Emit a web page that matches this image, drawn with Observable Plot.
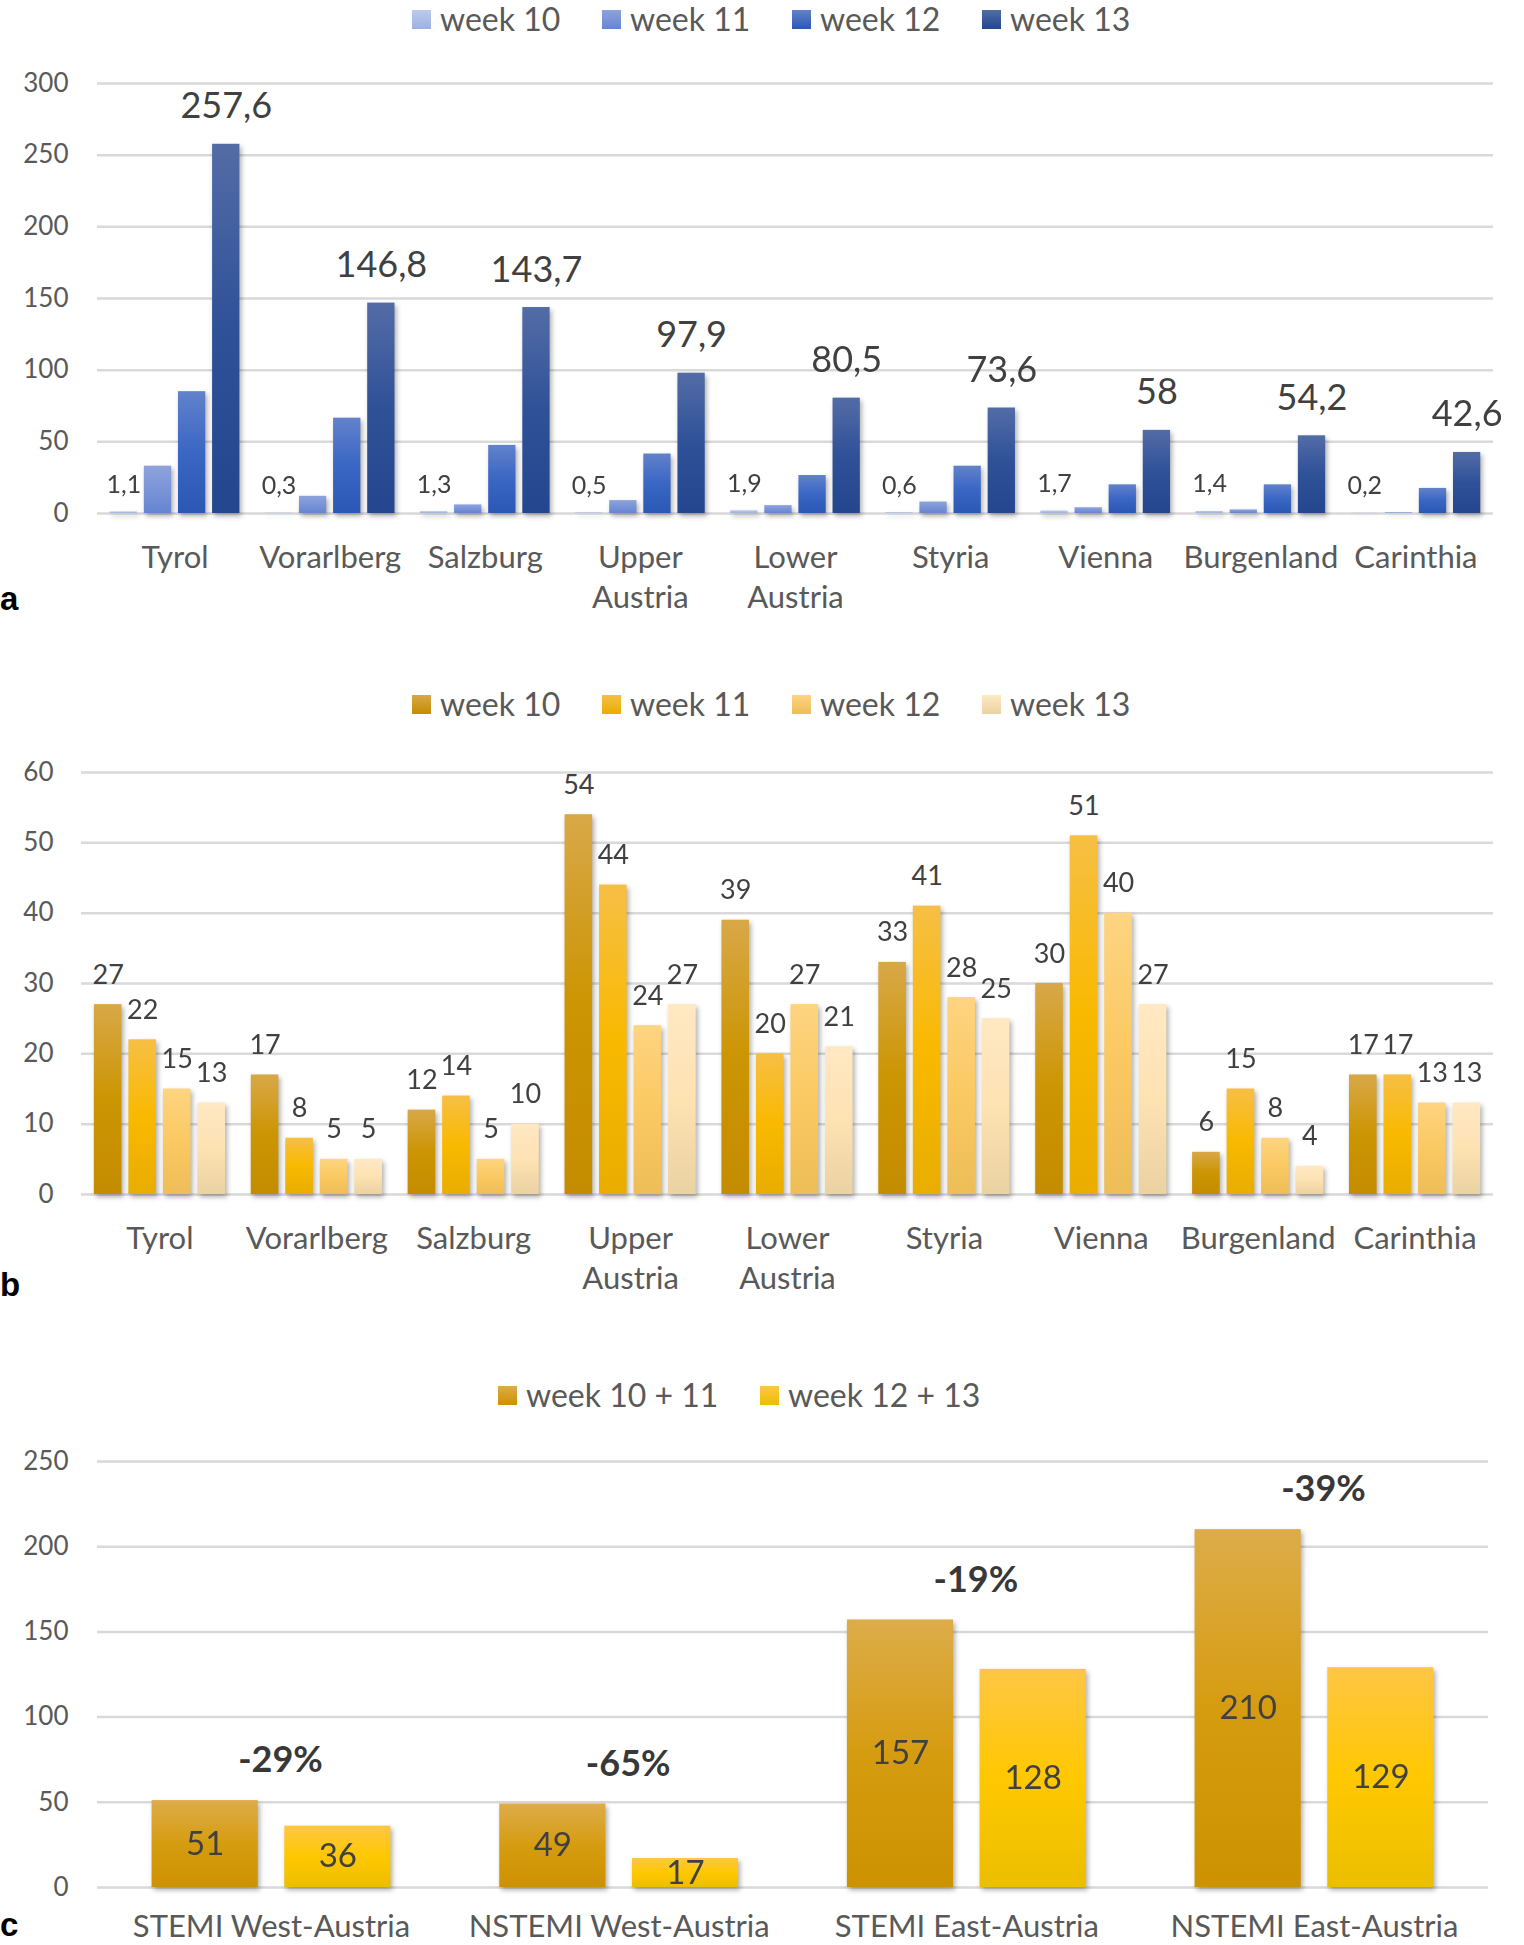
<!DOCTYPE html>
<html>
<head>
<meta charset="utf-8">
<script src="https://cdn.jsdelivr.net/npm/d3@7"></script>
<script src="https://cdn.jsdelivr.net/npm/@observablehq/plot@0.6"></script>
<style>
html, body { margin: 0; padding: 0; background: #fff; overflow: hidden; }
#page { position: relative; width: 1524px; height: 1945px; font-family: Lato, sans-serif; overflow: hidden; }
.legend { position: absolute; display: flex; align-items: center; white-space: nowrap; font-size: 32px; color: #595959; line-height: 32px; height: 32px; }
.legend .item { display: flex; align-items: center; }
.legend .sw { width: 19px; height: 19px; margin-right: 9px; flex: none; }
.panel { position: absolute; left: 0; width: 1524px; }
.panel svg { position: absolute; left: 0; top: 0; }
.letter { position: absolute; left: 0; font: bold 33px 'Liberation Sans', Arial, sans-serif; line-height: 33px; color: #000; }
</style>
</head>
<body>
<div id="page"></div>
<script>
// ---------- data ----------
const regions = ["Tyrol", "Vorarlberg", "Salzburg", "Upper Austria", "Lower Austria", "Styria", "Vienna", "Burgenland", "Carinthia"];
const regionLabels = ["Tyrol", "Vorarlberg", "Salzburg", "Upper\nAustria", "Lower\nAustria", "Styria", "Vienna", "Burgenland", "Carinthia"];
const weeks = ["week 10", "week 11", "week 12", "week 13"];

// panel a: incidence
const incidenceW10 = [1.1, 0.3, 1.3, 0.5, 1.9, 0.6, 1.7, 1.4, 0.2];
const incidenceW11 = [33, 12, 6, 9, 5.5, 8, 4, 2.5, 0.5];
const incidenceW12 = [85, 66.5, 47.5, 41.5, 26.5, 33, 20, 20, 17.5];
const incidenceW13 = [257.6, 146.8, 143.7, 97.9, 80.5, 73.6, 58, 54.2, 42.6];
const ticksA = [0, 50, 100, 150, 200, 250, 300];

// panel b: admissions
const amiW10 = [27, 17, 12, 54, 39, 33, 30, 6, 17];
const amiW11 = [22, 8, 14, 44, 20, 41, 51, 15, 17];
const amiW12 = [15, 5, 5, 24, 27, 28, 40, 8, 13];
const amiW13 = [13, 5, 10, 27, 21, 25, 27, 4, 13];
const ticksB = [0, 10, 20, 30, 40, 50, 60];

// panel c: grouped
const groupsC = ["STEMI West-Austria", "NSTEMI West-Austria", "STEMI East-Austria", "NSTEMI East-Austria"];
const periodsC = ["week 10 + 11", "week 12 + 13"];
const amiBefore = [51, 49, 157, 210];
const amiAfter = [36, 17, 128, 129];
const changeLabels = ["-29%", "-65%", "-19%", "-39%"];
const ticksC = [0, 50, 100, 150, 200, 250];

// ---------- styles ----------
const gradA = [["#bccaec", "#9db1e2"], ["#8ea3dc", "#6585d2"], ["#6282cb", "#3a66c4", "#2b58b4"], ["#536ca6", "#2f5198", "#23468e"]];
const gradB = [["#d8a848", "#cc9502", "#c48c00"], ["#f6bf45", "#f9b900", "#e9ad00"], ["#fdd481", "#fbc962", "#edbd58"], ["#ffe8c3", "#fde2b2", "#ebd2a2"]];
const gradC = [["#ddac4a", "#d69c10", "#cc9200"], ["#ffc645", "#ffc800", "#ebbe00"]];
const textDark = "#404040";
const textGray = "#595959";
const gridColor = "#d9d9d9";

// ---------- helpers ----------
const fmt = v => String(v).replace(".", ",");
const tidy = (cats, keys, series) => cats.flatMap((c, i) => keys.map((k, j) => ({cat: c, key: k, value: series[j][i]})));

function addGradients(svg, prefix, specs) {
  const defs = d3.select(svg).insert("defs", ":first-child");
  specs.forEach((stops, i) => {
    const lg = defs.append("linearGradient").attr("id", prefix + i)
      .attr("x1", 0).attr("y1", 0).attr("x2", 0).attr("y2", 1);
    stops.forEach((c, k) => lg.append("stop").attr("offset", k / (stops.length - 1)).attr("stop-color", c));
  });
  d3.select(svg).selectAll('g[aria-label="bar"]').style("filter", "drop-shadow(2px 3px 2.5px rgba(0,0,0,0.32))");
}

const page = document.getElementById("page");

function legend(items, grads, left, top, itemWidth) {
  const div = document.createElement("div");
  div.className = "legend";
  div.style.left = left + "px";
  div.style.top = top + "px";
  items.forEach((t, i) => {
    const it = document.createElement("div");
    it.className = "item";
    if (i < items.length - 1) it.style.width = itemWidth + "px";
    const sw = document.createElement("div");
    sw.className = "sw";
    const g = grads[i];
    sw.style.background = `linear-gradient(to bottom, ${g[0]}, ${g[g.length - 1]})`;
    const tx = document.createElement("span");
    tx.textContent = t;
    it.appendChild(sw); it.appendChild(tx);
    div.appendChild(it);
  });
  page.appendChild(div);
}

function letter(ch, top) {
  const d = document.createElement("div");
  d.className = "letter";
  d.style.top = top + "px";
  d.textContent = ch;
  page.appendChild(d);
}

const baseStyle = {fontFamily: "Lato, sans-serif", background: "transparent", maxWidth: "none", overflow: "visible"};

// A panel = background plot (grid + y axis, no facets) under a faceted bar plot with identical frame.
function panel({top, frame, yDomain, ticks, tickPadding, fx, x, color, marks, prefix, grads}) {
  const wrap = document.createElement("div");
  wrap.className = "panel";
  wrap.style.top = top + "px";
  wrap.style.height = frame.height + "px";
  const bg = Plot.plot({
    ...frame, style: baseStyle,
    y: {domain: yDomain, axis: null},
    marks: [
      Plot.gridY(ticks, {stroke: gridColor, strokeWidth: 2.5, strokeOpacity: 1}),
      Plot.axisY(ticks, {tickSize: 0, tickPadding, fontSize: 26, color: textGray, label: null})
    ]
  });
  const fg = Plot.plot({
    ...frame, style: baseStyle,
    fx, x, color,
    y: {domain: yDomain, axis: null},
    marks
  });
  addGradients(fg, prefix, grads);
  wrap.appendChild(bg);
  wrap.appendChild(fg);
  page.appendChild(wrap);
}

// ---------- panel a ----------
const dataA = tidy(regions, weeks, [incidenceW10, incidenceW11, incidenceW12, incidenceW13]);
panel({
  top: 40,
  frame: {width: 1524, height: 600, marginTop: 43, marginRight: 31, marginBottom: 127, marginLeft: 97},
  yDomain: [0, 300], ticks: ticksA, tickPadding: 29,
  fx: {domain: regions, paddingInner: 0.12, paddingOuter: 0.06, round: false, axis: null, label: null},
  x: {domain: weeks, paddingInner: 0.2, paddingOuter: 0.1, round: false, axis: null},
  color: {type: "ordinal", domain: weeks, range: weeks.map((w, i) => `url(#ga${i})`)},
  prefix: "ga", grads: gradA,
  marks: [
    Plot.barY(dataA, {fx: "cat", x: "key", y: "value", fill: "key"}),
    Plot.text(dataA.filter(d => d.key === weeks[0]), {fx: "cat", x: "key", y: "value", text: d => fmt(d.value), lineAnchor: "bottom", dy: -19, fontSize: 25, fill: textDark}),
    Plot.text(dataA.filter(d => d.key === weeks[3]), {fx: "cat", x: "key", y: "value", text: d => fmt(d.value), lineAnchor: "bottom", dy: -26, fontSize: 36, fill: textDark}),
    Plot.text(regions, {fx: d => d, text: (d, i) => regionLabels[i], frameAnchor: "bottom", lineAnchor: "top", dy: 26, fontSize: 31, lineHeight: 1.3, fill: textGray})
  ]
});
legend(weeks, gradA, 412, 3, 190);
letter("a", 582);

// ---------- panel b ----------
const dataB = tidy(regions, weeks, [amiW10, amiW11, amiW12, amiW13]);
panel({
  top: 720,
  frame: {width: 1524, height: 600, marginTop: 52, marginRight: 31, marginBottom: 126, marginLeft: 81},
  yDomain: [0, 60], ticks: ticksB, tickPadding: 28,
  fx: {domain: regions, paddingInner: 0.12, paddingOuter: 0.06, round: false, axis: null, label: null},
  x: {domain: weeks, paddingInner: 0.2, paddingOuter: 0.1, round: false, axis: null},
  color: {type: "ordinal", domain: weeks, range: weeks.map((w, i) => `url(#gb${i})`)},
  prefix: "gb", grads: gradB,
  marks: [
    Plot.barY(dataB, {fx: "cat", x: "key", y: "value", fill: "key"}),
    Plot.text(dataB, {fx: "cat", x: "key", y: "value", text: d => fmt(d.value), lineAnchor: "bottom", dy: -21, fontSize: 27, fill: textDark}),
    Plot.text(regions, {fx: d => d, text: (d, i) => regionLabels[i], frameAnchor: "bottom", lineAnchor: "top", dy: 26, fontSize: 31, lineHeight: 1.3, fill: textGray})
  ]
});
legend(weeks, gradB, 412, 688, 190);
letter("b", 1268);

// ---------- panel c ----------
const dataC = tidy(groupsC, periodsC, [amiBefore, amiAfter]);
const changeC = groupsC.map((g, i) => ({cat: g, top: Math.max(amiBefore[i], amiAfter[i]), label: changeLabels[i]}));
panel({
  top: 1420,
  frame: {width: 1524, height: 525, marginTop: 41, marginRight: 36, marginBottom: 58, marginLeft: 97},
  yDomain: [0, 250], ticks: ticksC, tickPadding: 29,
  fx: {domain: groupsC, paddingInner: 0.313, paddingOuter: 0.157, round: false, axis: null, label: null},
  x: {domain: periodsC, paddingInner: 0.2, paddingOuter: 0, round: false, axis: null},
  color: {type: "ordinal", domain: periodsC, range: periodsC.map((p, i) => `url(#gc${i})`)},
  prefix: "gc", grads: gradC,
  marks: [
    Plot.barY(dataC, {fx: "cat", x: "key", y: "value", fill: "key"}),
    Plot.text(dataC, {fx: "cat", x: "key", y: d => d.value / 2, text: d => fmt(d.value), lineAnchor: "middle", fontSize: 33, fill: textDark}),
    Plot.text(changeC, {fx: "cat", y: "top", text: "label", lineAnchor: "middle", dy: -40, dx: 9, fontSize: 36, fontWeight: "bold", fill: "#383838"}),
    Plot.text(groupsC, {fx: d => d, text: d => d, frameAnchor: "bottom", lineAnchor: "top", dy: 27, fontSize: 31, fill: textGray})
  ]
});
legend(periodsC, gradC, 498, 1379, 262);
letter("c", 1908);
</script>
</body>
</html>
